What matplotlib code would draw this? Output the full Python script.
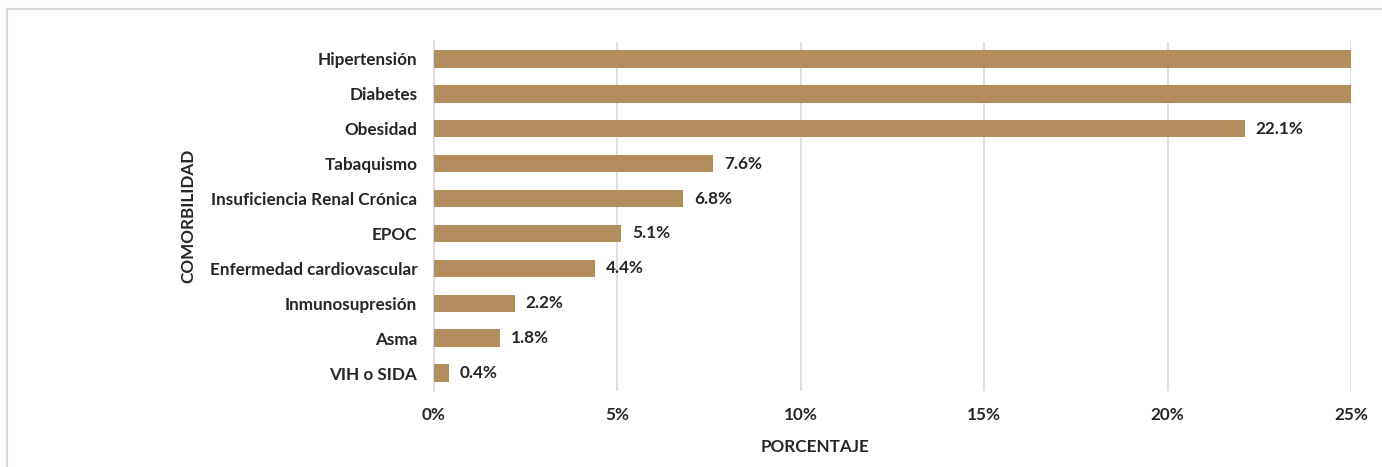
import matplotlib.pyplot as plt
from matplotlib.lines import Line2D

categories = ['Hipertensión', 'Diabetes', 'Obesidad', 'Tabaquismo',
              'Insuficiencia Renal Crónica', 'EPOC', 'Enfermedad cardiovascular',
              'Inmunosupresión', 'Asma', 'VIH o SIDA']
values = [30.0, 28.0, 22.1, 7.6, 6.8, 5.1, 4.4, 2.2, 1.8, 0.4]
x_ticks = [0, 5, 10, 15, 20, 25]

plt.rcParams['font.family'] = ['Lato', 'DejaVu Sans']
bar_color = '#B38E5D'
grid_color = '#D9D9D9'
text_color = '#262626'
fs = 12.3

fig = plt.figure(figsize=(13.82, 4.67), dpi=100)
ax = fig.add_axes([434 / 1382, 1 - 390.5 / 467, (1351 - 434) / 1382, (390.5 - 41.5) / 467])

pos = list(range(len(categories)))
ax.barh(pos, values, height=0.5, color=bar_color, zorder=3)
ax.set_xlim(0, 25)
ax.set_ylim(len(categories) - 0.5, -0.5)

for p, v in zip(pos, values):
    if v < 25:
        ax.text(v + 0.3, p, '%.1f%%' % v, va='center', ha='left',
                fontsize=fs, fontweight='bold', color=text_color)

ax.set_yticks(pos)
ax.set_yticklabels(categories, fontsize=fs, fontweight='bold', color=text_color)
ax.set_xticks(x_ticks)
ax.set_xticklabels(['%d%%' % t for t in x_ticks], fontsize=fs, fontweight='bold', color=text_color)
ax.tick_params(axis='both', length=0)
ax.tick_params(axis='y', pad=12)
ax.tick_params(axis='x', pad=12)

ax.grid(axis='x', color=grid_color, linewidth=1.2, zorder=0)
for s in ['top', 'right', 'bottom']:
    ax.spines[s].set_visible(False)
ax.spines['left'].set_color(grid_color)
ax.spines['left'].set_linewidth(1.2)

fig.text(815 / 1382, 1 - 447 / 467, 'PORCENTAJE', ha='center', va='center',
         fontsize=fs, fontweight='bold', color=text_color)
fig.text(188 / 1382, 1 - 216 / 467, 'COMORBILIDAD', rotation=90, ha='center', va='center',
         fontsize=fs, fontweight='bold', color=text_color)

# chart frame (only left and top edges visible)
fig.add_artist(Line2D([7 / 1382, 7 / 1382], [0, 1 - 9 / 467], color=grid_color, linewidth=1.5))
fig.add_artist(Line2D([7 / 1382, 1], [1 - 9 / 467, 1 - 9 / 467], color=grid_color, linewidth=1.5))

fig.savefig('out.png', dpi=100)
